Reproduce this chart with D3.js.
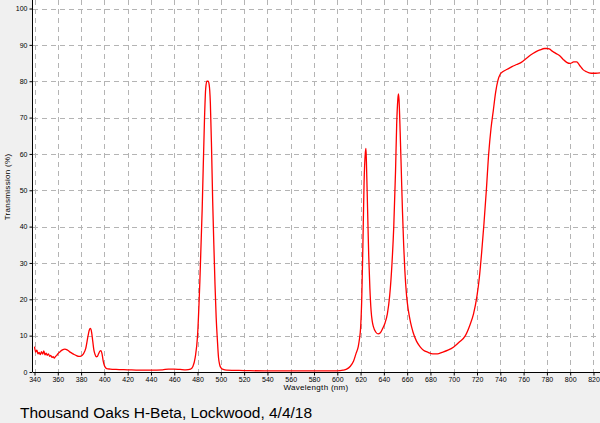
<!DOCTYPE html>
<html>
<head>
<meta charset="utf-8">
<script src="https://cdn.jsdelivr.net/npm/d3@7"></script>
<style>
  html, body { margin: 0; padding: 0; background: #f0f0f0; }
  svg { display: block; }
</style>
</head>
<body>
<svg id="chart" width="600" height="423"></svg>
<script>
const wavelengths = [340,341,342,343,344,345,346,347,348,349,350,351,352,353,354,355,356,357,358,359,360,362,364,366,368,370,372,374,376,378,380,382,384,386,387,388,389,390,391,392,393,394,395,396,397,398,399,400,401,402,405,410,420,430,440,450,455,460,465,470,474,476,478,480,482,484,486,487,488,489,490,491,492,493,494,495,496,497,498,499,500,502,505,520,540,560,580,600,605,608,611,614,616,618,619,620,621,622,623,624,624.6,625,626,627,628,629,630,631,633,635,637,639,641,643,645,647,648.5,650,651,652,652.5,653,654,655,656,657,658,659.5,661,663,665,668,671,674,678,682,686,690,695,700,705,710,714,717,720,722,724,726,728,730,732,734,736,738,740,742,746,750,754,758,762,766,770,774,778,780,782,785,788,791,794,797,800,803,805.6,808,811,814,818,822,826];
const transmission = [7.0,5.5,6.0,5.0,5.4,4.8,5.6,4.9,5.8,4.7,5.2,4.6,5.0,4.3,4.6,4.0,4.2,3.8,4.3,4.5,5.0,5.6,6.1,6.3,6.1,5.6,5.2,4.8,4.5,4.3,4.4,5.0,6.5,10.0,11.5,12.0,11.0,8.5,6.0,4.8,4.2,4.3,5.0,5.7,5.9,5.0,3.0,1.8,1.2,0.9,0.8,0.7,0.6,0.5,0.5,0.6,0.8,0.8,0.7,0.6,0.8,1.5,4,10,25,45,70,78,80,80,79,74,62,47,35,24,15,9,4,2,1.2,0.7,0.5,0.4,0.3,0.3,0.3,0.3,0.5,0.8,1.5,3,5,7,9,12,20,35,52,60,61.5,58,45,32,23,17,14,12.5,11,10.5,10.8,12,13.5,16,21,30,40,55,68,75,76.5,75,66,55,44,35,28,21,17,13.5,11,8.5,7,6,5.4,5.0,5.0,5.4,6.0,6.9,8.3,10,13,16,21,26,33,41,50,60,67,72,77,80.3,82,82.6,83.3,84.0,84.6,85.2,86.2,87.2,88.0,88.6,89.0,89.0,88.9,88.2,87.6,87.0,86.0,85.2,84.9,85.3,85.3,84.4,83.2,82.6,82.2,82.2,82.3];
const xTicks = [340,360,380,400,420,440,460,480,500,520,540,560,580,600,620,640,660,680,700,720,740,760,780,800,820];
const yTicks = [0,10,20,30,40,50,60,70,80,90,100];
const title = "Thousand Oaks H-Beta, Lockwood, 4/4/18";
const xLabel = "Wavelength (nm)";
const yLabel = "Transmission (%)";

const svg = d3.select("#chart");
const L = 33, R = 600, T = 0, B = 372;
const x = d3.scaleLinear().domain([338.7, 825.6]).range([L, R]);
const y = d3.scaleLinear().domain([0, 102.35]).range([B, T]);

svg.append("rect").attr("x", L).attr("y", T).attr("width", R - L).attr("height", B - T).attr("fill", "#ffffff");

const grid = svg.append("g").attr("stroke", "#b4b4b4").attr("stroke-width", 1).attr("stroke-dasharray", "5,4");
grid.selectAll("line.v").data(xTicks).join("line")
  .attr("x1", d => Math.round(x(d)) + 0.5).attr("x2", d => Math.round(x(d)) + 0.5)
  .attr("y1", T).attr("y2", B);
grid.selectAll("line.h").data(yTicks.filter(d => d > 0)).join("line")
  .attr("x1", L).attr("x2", R)
  .attr("y1", d => Math.round(y(d)) + 0.5).attr("y2", d => Math.round(y(d)) + 0.5);

svg.append("defs").append("clipPath").attr("id", "clip")
  .append("rect").attr("x", L).attr("y", T).attr("width", R - L).attr("height", B - T);

const data = wavelengths.map((w, i) => [w, transmission[i]]);
const line = d3.line().x(d => x(d[0])).y(d => y(d[1])).curve(d3.curveMonotoneX);
svg.append("path").datum(data).attr("clip-path", "url(#clip)")
  .attr("fill", "none").attr("stroke", "#ff0000").attr("stroke-width", 1.3)
  .attr("d", line);

const fontFam = "'Liberation Sans', Arial, sans-serif";
const xAxis = d3.axisBottom(x).tickValues(xTicks).tickSize(3).tickSizeOuter(0).tickPadding(2);
const gx = svg.append("g").attr("transform", `translate(0,${B + 0.5})`).call(xAxis);
gx.select(".domain").attr("stroke", "#000").attr("d", `M${L},0H${R}`);
gx.selectAll("text").attr("font-family", fontFam).attr("font-size", 7).attr("fill", "#000");

const yAxis = d3.axisLeft(y).tickValues(yTicks).tickSize(3).tickSizeOuter(0).tickPadding(2);
const gy = svg.append("g").attr("transform", `translate(${L - 0.5},0)`).call(yAxis);
gy.select(".domain").attr("stroke", "#000").attr("d", `M0,${T}V${B}`);
gy.selectAll("text").attr("font-family", fontFam).attr("font-size", 7).attr("fill", "#000");

svg.append("text").attr("x", 316).attr("y", 390).attr("text-anchor", "middle")
  .attr("font-family", fontFam).attr("font-size", 8).attr("letter-spacing", 0.3).attr("fill", "#000").text(xLabel);
svg.append("text").attr("transform", "translate(10,187) rotate(-90)").attr("text-anchor", "middle")
  .attr("font-family", fontFam).attr("font-size", 8).attr("letter-spacing", 0.3).attr("fill", "#000").text(yLabel);

svg.append("text").attr("x", 20).attr("y", 418)
  .attr("font-family", fontFam).attr("font-size", 15.5).attr("fill", "#000").text(title);
</script>
</body>
</html>
